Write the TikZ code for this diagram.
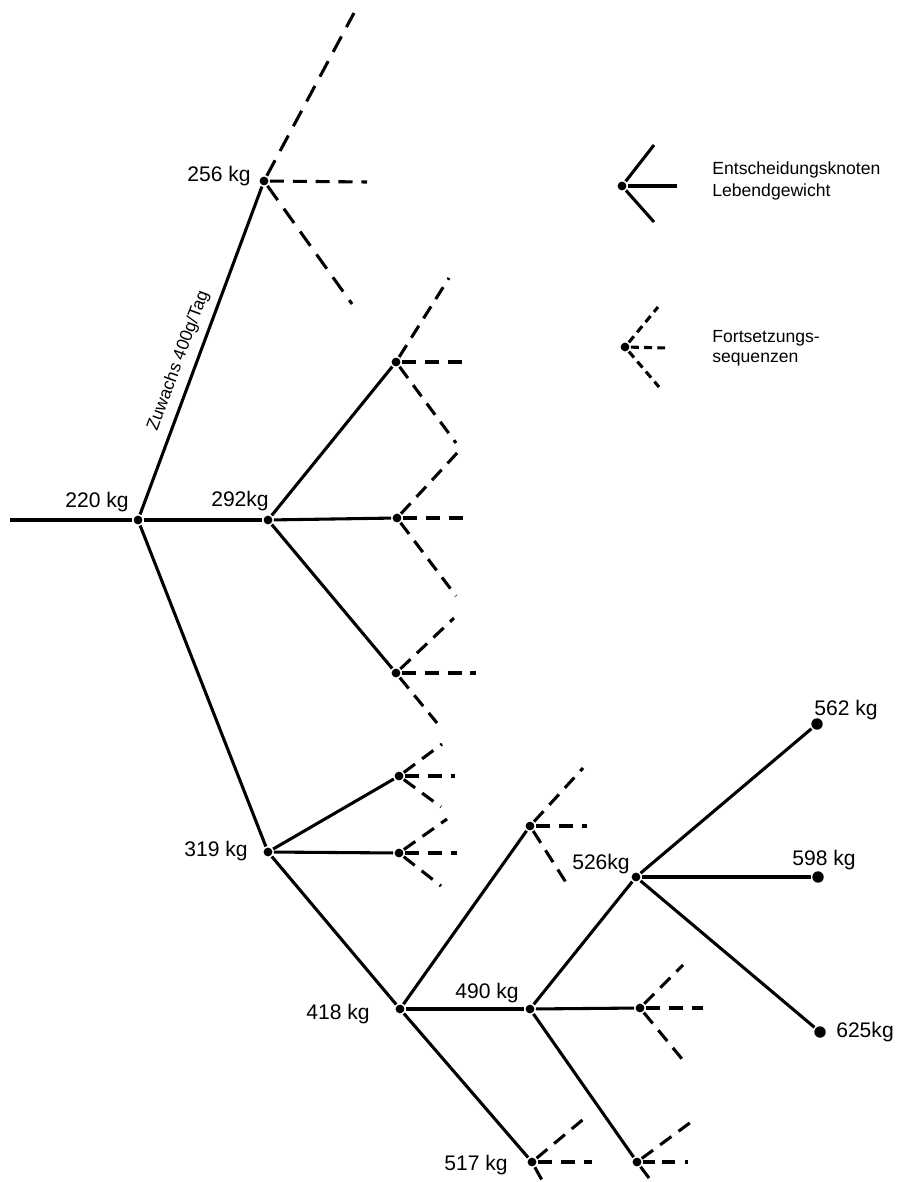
\documentclass[tikz,border=0pt]{standalone}
\usepackage{fontspec}
\setmainfont{Liberation Sans}

\tikzset{
  knot/.style={circle,fill,inner sep=0pt,minimum size=5pt},
  endknot/.style={circle,fill,inner sep=0pt,minimum size=6.5pt},
  kg/.style={font=\fontsize{12}{14}\selectfont},
  fort/.style={dash pattern=on 8pt off 5pt},
  fortlong/.style={dash pattern=on 10pt off 6pt},
  fortshort/.style={dash pattern=on 4.5pt off 3pt},
}

\begin{document}
\begin{tikzpicture}[x=0.02cm,y=-0.02cm,line width=1.75pt]
        \useasboundingbox (0,0) rectangle (901,1182);

        \begin{scope}[every node/.style={knot}]
          \node (n220) at (138,520)  {};
          \node (n256) at (264,181)  {};
          \node (n292) at (268,520)  {};
          \node (c1)   at (396,362)  {};
          \node (c2)   at (397,518)  {};
          \node (c3)   at (396,673)  {};
          \node (n319) at (268,852)  {};
          \node (d1)   at (399,776)  {};
          \node (d2)   at (399,853)  {};
          \node (n418) at (400,1009) {};
          \node (e1)   at (530,826)  {};
          \node (n490) at (530,1009) {};
          \node (n517) at (532,1162) {};
          \node (f1)   at (640,1008) {};
          \node (f2)   at (637,1162) {};
          \node (n526) at (636,877)  {};
          \node (leg1) at (622,186)  {};
          \node (leg2) at (625,347)  {};
        \end{scope}

        \begin{scope}[every node/.style={endknot}]
          \node (n562) at (817,724)  {};
          \node (n598) at (818,877)  {};
          \node (n625) at (820,1032) {};
        \end{scope}

        % free ends
        \coordinate (s)     at (10,520);
        \coordinate (n256u) at (354,13);
        \coordinate (n256r) at (367,182);
        \coordinate (n256d) at (352,304);
        \coordinate (c1u) at (449,278);
        \coordinate (c1r) at (463,362);
        \coordinate (c1d) at (456,443);
        \coordinate (c2u) at (458,452);
        \coordinate (c2r) at (465,518);
        \coordinate (c2d) at (456,596);
        \coordinate (c3u) at (454,618);
        \coordinate (c3r) at (476,673);
        \coordinate (c3d) at (437,723);
        \coordinate (d1u) at (442,744);
        \coordinate (d1r) at (455,776);
        \coordinate (d1d) at (441,807);
        \coordinate (d2u) at (447,819);
        \coordinate (d2r) at (457,853);
        \coordinate (d2d) at (441,886);
        \coordinate (e1u) at (583,768);
        \coordinate (e1r) at (587,826);
        \coordinate (e1d) at (567,884);
        \coordinate (f1u) at (683,965);
        \coordinate (f1r) at (703,1008);
        \coordinate (f1d) at (687,1065);
        \coordinate (n517u) at (586,1117);
        \coordinate (n517r) at (592,1162);
        \coordinate (n517d) at (543,1182);
        \coordinate (f2u) at (691,1122);
        \coordinate (f2r) at (697,1162);
        \coordinate (f2d) at (652,1182);
        \coordinate (leg1u) at (654,145);
        \coordinate (leg1r) at (677,186);
        \coordinate (leg1d) at (654,222);
        \coordinate (leg2u) at (658,307);
        \coordinate (leg2r) at (667,348);
        \coordinate (leg2d) at (659,387);

        \begin{scope}[every node/.style={kg}]
          \node (l220) at (97,502)   {220 kg};
          \node (l256) at (219,176)  {256 kg};
          \node (l292) at (240,501)  {292kg};
          \node (l319) at (216,851)  {319 kg};
          \node (l418) at (338,1014) {418 kg};
          \node (l490) at (487,993)  {490 kg};
          \node (l517) at (476,1165) {517 kg};
          \node (l526) at (601,864)  {526kg};
          \node (l562) at (846,710)  {562 kg};
          \node (l598) at (824,860)  {598 kg};
          \node (l625) at (865,1032) {625kg};
        \end{scope}

        \node[anchor=west,align=left,font=\fontsize{10}{13}\selectfont] (leg1txt) at (705,181)
          {Entscheidungsknoten\\Lebendgewicht};
        \node[anchor=west,align=left,font=\fontsize{10}{11.5}\selectfont] (leg2txt) at (705,348)
          {Fortsetzungs-\\sequenzen};

        \begin{scope}[every edge/.style={draw}]
          \path (s)    edge (n220);
          \path (n220) edge node[sloped,above=1pt,pos=0.45,font=\fontsize{10}{12}\selectfont] {Zuwachs 400g/Tag} (n256);
          \path (n220) edge (n292);
          \path (n220) edge (n319);
          \path (n292) edge (c1);
          \path (n292) edge (c2);
          \path (n292) edge (c3);
          \path (n319) edge (d1);
          \path (n319) edge (d2);
          \path (n319) edge (n418);
          \path (n418) edge (e1);
          \path (n418) edge (n490);
          \path (n418) edge (n517);
          \path (n490) edge (n526);
          \path (n490) edge (f1);
          \path (n490) edge (f2);
          \path (n526) edge (n562);
          \path (n526) edge (n598);
          \path (n526) edge (n625);
          \path (leg1) edge (leg1u) edge (leg1r) edge (leg1d);
        \end{scope}

        \begin{scope}[every edge/.style={draw,fort}]
          \path (n256) edge[fortlong] (n256u) edge (n256r) edge[fortlong] (n256d);
          \path (c1)   edge (c1u)   edge (c1r)   edge (c1d);
          \path (c2)   edge (c2u)   edge (c2r)   edge (c2d);
          \path (c3)   edge (c3u)   edge (c3r)   edge (c3d);
          \path (d1)   edge (d1u)   edge (d1r)   edge (d1d);
          \path (d2)   edge (d2u)   edge (d2r)   edge (d2d);
          \path (e1)   edge (e1u)   edge (e1r)   edge (e1d);
          \path (f1)   edge (f1u)   edge (f1r)   edge (f1d);
          \path (n517) edge (n517u) edge (n517r) edge (n517d);
          \path (f2)   edge (f2u)   edge[dash pattern=on 7pt off 4pt on 7pt off 6pt on 1.5pt off 20pt] (f2r) edge (f2d);
          \path (leg2) edge[fortshort] (leg2u) edge[fortshort] (leg2r) edge[fortshort] (leg2d);
        \end{scope}

      \end{tikzpicture}
\end{document}
